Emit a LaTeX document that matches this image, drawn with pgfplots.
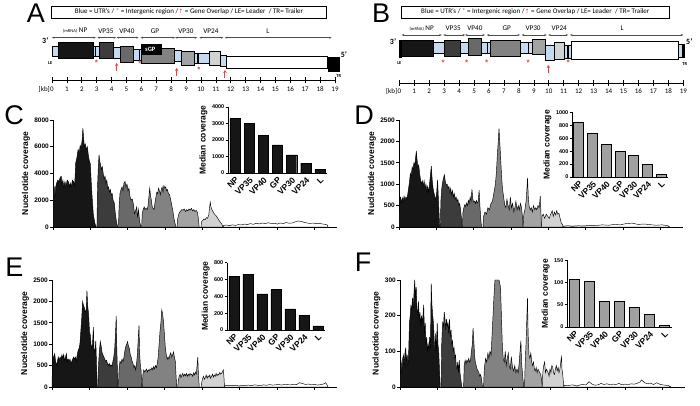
\documentclass[border=0pt]{standalone}
\usepackage{fontspec}
\setmainfont{Liberation Sans}
\newfontfamily\calfont{Carlito}
\newfontfamily\arrowfont{DejaVu Sans}
\usepackage{pgfplots}
\pgfplotsset{compat=1.18}
\usetikzlibrary{arrows.meta}

\definecolor{utr}{RGB}{197,217,241}
\definecolor{markred}{RGB}{214,76,76}
\definecolor{cNP}{RGB}{22,22,22}
\definecolor{cVPa}{RGB}{60,60,60}
\definecolor{cVPb}{RGB}{105,105,105}
\definecolor{cGP}{RGB}{130,130,130}
\definecolor{cVPc}{RGB}{163,163,163}
\definecolor{cVPd}{RGB}{210,210,210}
\definecolor{bargray}{RGB}{160,160,160}

\pgfplotsset{
  covstyle/.style={scale only axis, anchor=south west, axis lines=left,
    axis line style={-, line width=0.9pt},
    xmin=0, xmax=19, ymin=0,
    xtick={0,2.5,...,17.5}, xticklabels={},
    tick align=outside, major tick length=3pt,
    tick style={line width=0.9pt, black},
    yticklabel style={font=\bfseries\fontsize{6.5}{7}\selectfont, inner sep=1pt},
    ylabel style={font=\bfseries\fontsize{8.5}{9}\selectfont},
    /pgf/number format/assume math mode=true,
    /pgf/number format/1000 sep={},
    scaled y ticks=false,
    every axis plot/.append style={draw=black, line width=0.45pt}},
  insetstyle/.style={scale only axis, anchor=south west, axis lines=left,
    axis line style={-, line width=0.8pt},
    ybar, bar width=0.72,
    xmin=0.5, xmax=7.5, ymin=0,
    xtick={1,...,7}, xticklabels={NP,VP35,VP40,GP,VP30,VP24,L},
    x tick label style={rotate=45, anchor=north east, inner sep=0.5pt,
      font=\bfseries\fontsize{8.5}{9}\selectfont},
    x tick style={draw=none},
    tick align=outside, major tick length=2.5pt,
    y tick style={line width=0.8pt, black},
    yticklabel style={font=\bfseries\fontsize{5.5}{6}\selectfont, inner sep=1pt},
    ylabel={Median coverage},
    ylabel style={font=\bfseries\fontsize{8.5}{9}\selectfont},
    /pgf/number format/assume math mode=true,
    /pgf/number format/1000 sep={},
    scaled y ticks=false},
  mapstyle/.style={scale only axis, anchor=center, hide axis, clip=false,
    xmin=0, xmax=19, ymin=0, ymax=100, y dir=reverse, height=100pt},
}

\tikzset{
  box/.style={line width=0.4pt, draw=black},
  gene/.style={{Stealth[length=2.5pt,width=2pt]}-{Stealth[length=2.5pt,width=2pt]}, black!70, line width=0.4pt},
  glab/.style={font=\calfont\fontsize{7.2}{8}\selectfont},
  redup/.style={-{Stealth[length=3pt,width=3.5pt]}, markred, line width=0.9pt},
  ast/.style={markred, font=\bfseries\fontsize{8}{8}\selectfont, inner sep=0pt},
}

\begin{document}
\begin{tikzpicture}
\useasboundingbox (0,0) rectangle (700pt,406pt);

% ---------------- A: genome map ----------------
\begin{axis}[mapstyle, at={(193.5pt,356pt)}, width=283pt]
\addplot[black, line width=0.6pt] coordinates {(0,80) (19,80)};
\pgfplotsinvokeforeach{0,...,19}{\draw[line width=0.6pt] (#1,77) -- (#1,83);
  \node[font=\calfont\fontsize{7}{8}\selectfont] at (#1,89) {#1};}
\node[anchor=east, inner sep=0pt, font=\calfont\fontsize{7}{8}\selectfont] at (-0.13,89) {[kb]};
\node[draw, line width=0.6pt, minimum width=275pt, minimum height=12pt, inner sep=1pt,
  font=\calfont\fontsize{7}{8}\selectfont] at (9.2,12)
  {Blue = UTR’s / {\color{markred}*} = Intergenic region /{\color{markred}\arrowfont\fontsize{6}{6}\selectfont ↑} = Gene Overlap / LE= Leader \ / TR= Trailer};
% gene spans
\draw[gene] (0,37.7) -- (2.95,37.7);
\draw[gene] (3.04,37.7) -- (4.3,37.7);
\draw[gene] (4.34,37.7) -- (5.82,37.7);
\draw[gene] (5.95,37.7) -- (8.26,37.7);
\draw[gene] (8.26,37.7) -- (9.75,37.7);
\draw[gene] (9.89,37.7) -- (11.5,37.7);
\draw[gene] (11.61,37.7) -- (18.77,37.7);
\node[glab] at (1.55,31) {{\fontsize{4.5}{5}\selectfont (mRNA)} NP};
\node[glab] at (3.62,31) {VP35};
\node[glab] at (5.03,31) {VP40};
\node[glab] at (6.91,31) {GP};
\node[glab] at (8.99,31) {VP30};
\node[glab] at (10.67,31) {VP24};
\node[glab] at (14.5,31) {L};
% genome boxes
\draw[box, fill=utr] (0,46) rectangle (0.45,56);
\draw[box, fill=cNP] (0.42,42) rectangle (2.77,58);
\draw[box, fill=utr] (2.77,46) rectangle (3.15,56);
\fill[black] (2.88,46) rectangle (2.97,56);
\draw[box, fill=cVPa] (3.15,42) rectangle (4.11,58);
\draw[box, fill=utr] (4.11,47) rectangle (4.56,58);
\draw[box, fill=cVPb] (4.56,46) rectangle (5.46,62);
\draw[box, fill=utr] (5.46,49) rectangle (6.02,60);
\fill[black] (5.82,49) rectangle (5.9,60);
\draw[box, fill=cGP] (6.02,48) rectangle (8.21,63);
\draw[box, fill=black] (6.02,44) rectangle (7.35,54.5);
\node[white, font=\calfont\bfseries\fontsize{6.5}{7}\selectfont] at (6.6,49.5) {sGP};
\draw[box, fill=utr] (8.21,50) rectangle (8.66,61);
\draw[box, fill=cVPc] (8.66,51) rectangle (9.53,65);
\draw[box, fill=utr] (9.53,53) rectangle (10.56,63);
\fill[black] (9.75,53) rectangle (9.84,63);
\draw[box, fill=cVPd] (10.56,51) rectangle (11.28,65);
\draw[box, fill=utr] (11.28,55) rectangle (11.68,66);
\draw[box, fill=white] (11.68,56) rectangle (18.48,68.5);
\draw[box, fill=black] (18.52,57) rectangle (19.3,71);
\node[font=\calfont\bfseries\fontsize{8}{8}\selectfont] at (-0.45,41) {3’};
\node[font=\calfont\bfseries\fontsize{8}{8}\selectfont] at (19.6,55) {5’};
\node[font=\calfont\bfseries\fontsize{4.5}{5}\selectfont] at (-0.12,63) {LE};
\node[font=\calfont\bfseries\fontsize{4.5}{5}\selectfont] at (19.25,76) {TR};
\node[ast] at (2.99,63) {*};
\node[ast] at (5.9,64) {*};
\node[ast] at (9.87,70) {*};
\draw[redup] (4.34,71) -- (4.34,63);
\draw[redup] (8.37,76) -- (8.37,68);
\draw[redup] (11.61,78) -- (11.61,70);
\end{axis}
\node[font=\fontsize{27}{27}\selectfont] at (36pt,393pt) {A};

% ---------------- B: genome map ----------------
\begin{axis}[mapstyle, at={(541.3pt,356pt)}, width=284pt]
\addplot[black, line width=0.6pt] coordinates {(0,83) (19,83)};
\pgfplotsinvokeforeach{0,...,19}{\draw[line width=0.6pt] (#1,80) -- (#1,86);
  \node[font=\calfont\fontsize{7}{8}\selectfont] at (#1,91) {#1};}
\node[anchor=east, inner sep=0pt, font=\calfont\fontsize{7}{8}\selectfont] at (-0.13,91) {[kb]};
\node[draw, line width=0.6pt, minimum width=268pt, minimum height=12pt, inner sep=1pt,
  font=\calfont\fontsize{7}{8}\selectfont] at (9.1,12)
  {Blue = UTR’s / {\color{markred}*} = Intergenic region /{\color{markred}\arrowfont\fontsize{6}{6}\selectfont ↑} = Gene Overlap / LE= Leader \ / TR= Trailer};
\draw[gene] (0.16,35) -- (2.84,35);
\draw[gene] (2.94,35) -- (4.4,35);
\draw[gene] (4.4,35) -- (5.73,35);
\draw[gene] (5.85,35) -- (8.07,35);
\draw[gene] (8.19,35) -- (9.86,35);
\draw[gene] (9.97,35) -- (11.3,35);
\draw[gene] (11.42,35) -- (19.0,35);
\node[glab] at (1.5,28.3) {{\fontsize{4.5}{5}\selectfont (mRNA)} NP};
\node[glab] at (3.6,28.3) {VP35};
\node[glab] at (5.06,28.3) {VP40};
\node[glab] at (7.18,28.3) {GP};
\node[glab] at (8.95,28.3) {VP30};
\node[glab] at (10.7,28.3) {VP24};
\node[glab] at (14.9,28.3) {L};
\draw[box, fill=black] (0,40) rectangle (0.16,57);
\draw[box, fill=cNP] (0.16,40) rectangle (2.27,56.7);
\draw[box, fill=utr] (2.27,42.5) rectangle (3.0,53.5);
\draw[box, fill=cVPa] (3.0,40) rectangle (4.06,56.7);
\draw[box, fill=utr] (4.06,42.5) rectangle (4.62,53.5);
\draw[box, fill=cVPb] (4.62,38.3) rectangle (5.51,55);
\draw[box, fill=utr] (5.51,42.5) rectangle (6.07,53.5);
\fill[black] (5.85,42.5) rectangle (5.94,53.5);
\draw[box, fill=cGP] (6.07,40) rectangle (8.07,56.7);
\draw[box, fill=utr] (8.07,42.5) rectangle (8.92,53.5);
\fill[black] (8.6,42.5) rectangle (8.69,53.5);
\draw[box, fill=cVPc] (8.92,39) rectangle (9.75,54.3);
\draw[box, fill=utr] (9.75,45) rectangle (10.37,60);
\draw[box, fill=cVPd] (10.37,42.7) rectangle (11.04,59.3);
\draw[box, fill=utr] (11.04,45) rectangle (11.53,58);
\fill[black] (11.24,45) rectangle (11.32,58);
\draw[box, fill=white] (11.53,41.7) rectangle (18.66,59.3);
\draw[box, fill=utr] (18.66,44) rectangle (18.95,57);
\draw[box, fill=black] (18.95,44) rectangle (19.07,57);
\node[font=\calfont\bfseries\fontsize{8}{8}\selectfont] at (-0.42,42) {3’};
\node[font=\calfont\bfseries\fontsize{8}{8}\selectfont] at (19.4,42) {5’};
\node[font=\calfont\bfseries\fontsize{4.5}{5}\selectfont] at (0,63) {LE};
\node[font=\calfont\bfseries\fontsize{4.5}{5}\selectfont] at (19.1,64) {TR};
\node[ast] at (2.94,63) {*};
\node[ast] at (4.5,63) {*};
\node[ast] at (5.85,63) {*};
\node[ast] at (8.63,63) {*};
\node[ast] at (11.3,63) {*};
\draw[redup] (9.97,73) -- (9.97,65);
\end{axis}
\node[font=\fontsize{27}{27}\selectfont] at (381pt,393pt) {B};

% ---------------- C ----------------
\begin{axis}[covstyle, at={(53pt,179pt)}, width=284pt, height=107pt,
  ymax=8000, ytick={0,2000,...,8000}, ylabel={Nucelotide coverage}]
\addplot[fill=cNP] coordinates {(0,0) (0.02,2900) (0.08,3000) (0.13,2200) (0.18,3000) (0.25,3300) (0.32,3500) (0.4,3400) (0.48,3700) (0.55,3800) (0.6,3200) (0.66,3500) (0.72,3000) (0.8,3400) (0.86,3000) (0.95,3500) (1.02,3400) (1.1,3000) (1.15,3300) (1.22,3000) (1.3,3500) (1.38,3400) (1.45,3100) (1.52,4800) (1.6,5200) (1.68,5800) (1.75,5500) (1.82,6100) (1.88,5900) (1.95,6500) (2.0,7400) (2.05,6600) (2.1,6000) (2.16,6200) (2.22,5800) (2.3,6000) (2.36,5400) (2.42,5000) (2.5,4700) (2.55,3500) (2.62,2200) (2.7,900) (2.8,300) (2.88,0)} \closedcycle;
\addplot[fill=cVPa] coordinates {(2.94,0) (2.98,3000) (3.03,4500) (3.08,5400) (3.13,4900) (3.18,4700) (3.24,4300) (3.3,4500) (3.36,4000) (3.42,3600) (3.48,3800) (3.54,3300) (3.6,3500) (3.66,2900) (3.72,3000) (3.78,2600) (3.84,2800) (3.9,2400) (3.96,2500) (4.02,2000) (4.1,1800) (4.18,900) (4.26,300) (4.33,0)} \closedcycle;
\addplot[fill=cVPb] coordinates {(4.38,0) (4.42,1500) (4.48,2500) (4.55,2800) (4.62,3000) (4.68,2700) (4.75,3300) (4.82,3400) (4.88,3000) (4.95,3200) (5.02,2700) (5.08,2900) (5.15,2300) (5.22,2000) (5.3,2100) (5.38,1700) (5.45,1000) (5.52,1200) (5.6,1500) (5.66,700) (5.72,1300) (5.8,400) (5.88,0)} \closedcycle;
\addplot[fill=cGP] coordinates {(5.93,0) (5.97,1000) (6.03,1300) (6.1,1500) (6.16,1300) (6.22,1400) (6.3,1300) (6.36,1600) (6.42,2300) (6.47,2900) (6.52,2400) (6.58,2000) (6.64,1500) (6.7,1400) (6.76,1300) (6.82,1800) (6.88,2200) (6.94,2600) (7.0,2500) (7.06,2900) (7.12,2700) (7.18,2400) (7.24,2800) (7.3,3000) (7.36,2600) (7.42,3100) (7.48,2900) (7.54,3000) (7.6,2700) (7.66,2800) (7.72,2500) (7.8,2400) (7.88,2000) (7.95,1600) (8.02,1200) (8.1,600) (8.18,200) (8.24,0)} \closedcycle;
\addplot[fill=cVPc] coordinates {(8.3,0) (8.34,600) (8.4,900) (8.47,1100) (8.54,1200) (8.62,1300) (8.7,1250) (8.78,1350) (8.86,1150) (8.94,1300) (9.02,1200) (9.1,1350) (9.18,1250) (9.26,1400) (9.34,1200) (9.42,1300) (9.5,1150) (9.58,1250) (9.66,1100) (9.72,700) (9.78,0)} \closedcycle;
\addplot[fill=cVPd] coordinates {(9.9,0) (9.94,400) (10.02,500) (10.1,600) (10.18,550) (10.26,700) (10.34,650) (10.42,900) (10.48,1500) (10.52,1850) (10.57,1500) (10.63,1300) (10.7,1150) (10.78,1000) (10.86,900) (10.94,800) (11.02,650) (11.1,500) (11.2,350) (11.3,200) (11.38,0)} \closedcycle;
\addplot[fill=white] coordinates {(11.38,0) (11.42,120) (11.6,150) (11.8,100) (12.0,160) (12.2,120) (12.4,180) (12.6,150) (12.8,220) (13.0,180) (13.2,250) (13.4,200) (13.6,280) (13.8,230) (14.0,300) (14.2,250) (14.4,320) (14.6,260) (14.8,280) (15.0,220) (15.2,300) (15.4,260) (15.6,330) (15.8,280) (16.0,300) (16.2,380) (16.4,450) (16.6,420) (16.8,350) (17.0,300) (17.2,260) (17.4,300) (17.6,250) (17.8,280) (18.0,230) (18.2,200) (18.35,150) (18.4,0)} \closedcycle;
\end{axis}
\begin{axis}[insetstyle, at={(228pt,233pt)}, width=99pt, height=66pt,
  ymax=4000, ytick={0,1000,...,4000}]
\addplot[fill=cNP, draw=black] coordinates {(1,3300) (2,3000) (3,2300) (4,1700) (5,1100) (6,600) (7,200)};
\end{axis}
\node[font=\fontsize{27}{27}\selectfont] at (14pt,291pt) {C};

% ---------------- D ----------------
\begin{axis}[covstyle, at={(399pt,179pt)}, width=284pt, height=107pt,
  ymax=2500, ytick={0,500,...,2500}, ylabel={Nucleotide coverage}]
\addplot[fill=cNP] coordinates {(0.0,0) (0.03,650) (0.1,700) (0.16,560) (0.22,680) (0.28,600) (0.34,720) (0.4,620) (0.46,700) (0.52,650) (0.58,750) (0.64,900) (0.7,1050) (0.76,1250) (0.82,1200) (0.88,1400) (0.94,1350) (1.0,1500) (1.06,1450) (1.12,1650) (1.16,1780) (1.2,1600) (1.26,1400) (1.32,1450) (1.38,1250) (1.44,1100) (1.5,1000) (1.56,1080) (1.62,950) (1.68,1080) (1.74,900) (1.8,1000) (1.86,850) (1.92,950) (1.98,800) (2.04,1000) (2.1,1200) (2.16,1420) (2.22,1100) (2.28,900) (2.34,800) (2.4,700) (2.46,650) (2.52,800) (2.58,1100) (2.63,700) (2.68,300) (2.72,0)} \closedcycle;
\addplot[fill=cVPa] coordinates {(2.77,0) (2.8,600) (2.86,900) (2.92,1050) (2.98,1150) (3.04,1220) (3.1,1050) (3.16,980) (3.22,1000) (3.28,900) (3.34,950) (3.4,800) (3.46,900) (3.52,750) (3.58,850) (3.64,700) (3.7,780) (3.76,650) (3.82,700) (3.88,600) (3.94,650) (4.0,500) (4.06,550) (4.12,400) (4.18,200) (4.22,0)} \closedcycle;
\addplot[fill=cVPb] coordinates {(4.24,0) (4.28,350) (4.34,450) (4.4,520) (4.46,480) (4.52,560) (4.58,500) (4.64,620) (4.7,550) (4.76,700) (4.82,600) (4.88,880) (4.94,650) (5.0,580) (5.06,600) (5.12,550) (5.18,620) (5.24,560) (5.3,600) (5.36,860) (5.42,450) (5.47,200) (5.52,0)} \closedcycle;
\addplot[fill=cGP] coordinates {(5.62,0) (5.66,250) (5.75,350) (5.85,300) (5.95,450) (6.05,400) (6.15,550) (6.25,600) (6.35,800) (6.45,1000) (6.52,1300) (6.58,1700) (6.64,2000) (6.69,2300) (6.74,2000) (6.8,1600) (6.86,1200) (6.92,900) (7.0,700) (7.08,500) (7.15,450) (7.22,650) (7.3,500) (7.38,400) (7.45,700) (7.52,450) (7.6,550) (7.68,350) (7.75,450) (7.82,600) (7.9,400) (7.98,500) (8.05,400) (8.12,550) (8.2,450) (8.27,200) (8.3,0)} \closedcycle;
\addplot[fill=cVPc] coordinates {(8.3,0) (8.35,300) (8.42,400) (8.5,600) (8.56,900) (8.6,1150) (8.65,700) (8.7,500) (8.78,400) (8.85,450) (8.92,350) (9.0,500) (9.08,400) (9.15,450) (9.22,400) (9.3,500) (9.38,450) (9.45,720) (9.5,300) (9.53,0)} \closedcycle;
\addplot[fill=cVPd] coordinates {(9.53,0) (9.57,250) (9.65,300) (9.75,200) (9.85,300) (9.95,250) (10.05,200) (10.15,300) (10.25,380) (10.32,250) (10.4,350) (10.48,280) (10.55,380) (10.62,300) (10.7,320) (10.78,200) (10.85,100) (10.95,50) (10.97,0)} \closedcycle;
\addplot[fill=white] coordinates {(10.97,0) (11.0,20) (11.3,30) (11.6,20) (12.0,30) (12.4,25) (12.8,40) (13.2,35) (13.6,50) (14.0,40) (14.4,60) (14.8,50) (15.2,80) (15.6,90) (16.0,60) (16.4,70) (16.8,55) (17.2,40) (17.6,50) (18.0,30) (18.1,0)} \closedcycle;
\end{axis}
\begin{axis}[insetstyle, at={(572pt,229pt)}, width=96pt, height=64.6pt,
  ymax=1000, ytick={0,200,...,1000}]
\addplot[fill=bargray, draw=black, line width=0.9pt] coordinates {(1,850) (2,680) (3,500) (4,390) (5,330) (6,200) (7,40)};
\end{axis}
\node[font=\fontsize{27}{27}\selectfont] at (364pt,291pt) {D};

% ---------------- E ----------------
\begin{axis}[covstyle, at={(52pt,19pt)}, width=285pt, height=107pt,
  ymax=2500, ytick={0,500,...,2500}, ylabel={Nucelotide coverage}]
\addplot[fill=cNP] coordinates {(0,0) (0.03,500) (0.1,700) (0.18,780) (0.24,600) (0.3,500) (0.36,600) (0.42,700) (0.48,620) (0.54,700) (0.6,650) (0.66,750) (0.72,680) (0.78,760) (0.84,600) (0.9,700) (0.96,780) (1.02,600) (1.08,650) (1.14,600) (1.2,650) (1.26,550) (1.32,600) (1.38,650) (1.44,700) (1.5,650) (1.56,700) (1.62,600) (1.68,750) (1.74,850) (1.8,900) (1.86,1000) (1.92,1300) (1.98,1600) (2.04,2000) (2.1,1900) (2.16,1850) (2.22,1750) (2.28,1800) (2.33,2250) (2.38,1900) (2.44,1700) (2.5,1300) (2.56,1200) (2.62,900) (2.7,1000) (2.76,1400) (2.8,900) (2.86,800) (2.92,1080) (2.97,500) (3.02,0)} \closedcycle;
\addplot[fill=cVPa] coordinates {(3.06,0) (3.1,500) (3.16,850) (3.22,1060) (3.28,950) (3.34,800) (3.4,750) (3.46,700) (3.52,650) (3.58,600) (3.64,620) (3.7,550) (3.76,500) (3.82,550) (3.88,480) (3.94,520) (4.0,480) (4.06,600) (4.12,700) (4.18,900) (4.24,1300) (4.28,1660) (4.32,900) (4.36,400) (4.4,0)} \closedcycle;
\addplot[fill=cVPb] coordinates {(4.43,0) (4.47,400) (4.53,600) (4.6,550) (4.67,650) (4.74,600) (4.8,700) (4.86,850) (4.92,950) (4.98,1000) (5.04,1060) (5.1,950) (5.16,900) (5.22,750) (5.28,700) (5.34,600) (5.4,550) (5.46,450) (5.52,500) (5.58,400) (5.64,550) (5.7,800) (5.76,1200) (5.8,1440) (5.84,800) (5.9,450) (5.94,400) (5.98,0)} \closedcycle;
\addplot[fill=cGP] coordinates {(6.02,0) (6.06,300) (6.12,400) (6.18,350) (6.24,380) (6.3,420) (6.36,350) (6.42,400) (6.48,380) (6.54,420) (6.6,400) (6.66,450) (6.72,400) (6.78,480) (6.84,420) (6.9,500) (6.96,450) (7.02,550) (7.08,700) (7.14,1000) (7.2,1300) (7.26,1500) (7.32,1800) (7.38,1700) (7.44,1500) (7.5,1200) (7.56,900) (7.62,750) (7.68,650) (7.74,700) (7.8,650) (7.86,750) (7.92,800) (7.98,700) (8.04,750) (8.1,820) (8.16,700) (8.22,600) (8.28,200) (8.32,0)} \closedcycle;
\addplot[fill=cVPc] coordinates {(8.38,0) (8.42,150) (8.48,250) (8.54,300) (8.6,220) (8.66,280) (8.72,320) (8.78,250) (8.84,300) (8.9,260) (8.96,320) (9.02,250) (9.08,300) (9.14,260) (9.2,320) (9.26,280) (9.32,300) (9.38,250) (9.44,330) (9.5,280) (9.56,350) (9.62,300) (9.67,500) (9.72,700) (9.76,300) (9.82,0)} \closedcycle;
\addplot[fill=cVPd] coordinates {(9.94,0) (9.98,100) (10.04,200) (10.1,250) (10.16,180) (10.22,220) (10.28,280) (10.34,200) (10.4,260) (10.46,230) (10.52,280) (10.58,200) (10.64,250) (10.7,300) (10.76,230) (10.82,280) (10.88,250) (10.94,320) (11.0,260) (11.06,300) (11.12,280) (11.18,340) (11.24,300) (11.3,320) (11.36,350) (11.42,400) (11.46,250) (11.5,0)} \closedcycle;
\addplot[fill=white] coordinates {(11.5,0) (11.52,40) (11.7,30) (11.9,40) (12.1,30) (12.3,35) (12.5,25) (12.7,40) (12.9,35) (13.1,45) (13.3,30) (13.5,50) (13.7,40) (13.9,35) (14.1,50) (14.3,40) (14.5,55) (14.7,45) (14.9,50) (15.1,60) (15.3,45) (15.5,60) (15.7,55) (15.9,50) (16.1,60) (16.3,55) (16.5,100) (16.7,80) (16.9,60) (17.1,70) (17.3,50) (17.5,60) (17.7,45) (17.9,55) (18.1,70) (18.25,100) (18.35,40) (18.4,0)} \closedcycle;
\end{axis}
\begin{axis}[insetstyle, at={(227pt,76pt)}, width=98pt, height=67.3pt,
  ymax=800, ytick={0,200,...,800}]
\addplot[fill=cNP, draw=black] coordinates {(1,640) (2,660) (3,430) (4,480) (5,250) (6,175) (7,50)};
\end{axis}
\node[font=\fontsize{27}{27}\selectfont] at (14.5pt,138.5pt) {E};

% ---------------- F ----------------
\begin{axis}[covstyle, at={(400pt,19pt)}, width=285pt, height=107pt,
  ymax=300, ytick={0,100,200,300}, ylabel={Nucleotide coverage}]
\addplot[fill=cNP] coordinates {(0,0) (0.03,60) (0.08,70) (0.13,40) (0.18,80) (0.23,90) (0.28,60) (0.33,95) (0.38,110) (0.43,70) (0.48,90) (0.53,60) (0.58,100) (0.63,180) (0.68,200) (0.73,230) (0.78,210) (0.83,250) (0.88,220) (0.93,260) (0.98,300) (1.03,250) (1.08,280) (1.13,220) (1.18,200) (1.23,240) (1.28,190) (1.33,210) (1.38,170) (1.43,200) (1.48,180) (1.53,200) (1.58,230) (1.63,150) (1.68,180) (1.73,120) (1.78,140) (1.83,100) (1.88,120) (1.93,100) (1.98,140) (2.03,110) (2.08,290) (2.13,230) (2.18,200) (2.23,180) (2.28,130) (2.33,100) (2.38,150) (2.43,100) (2.48,180) (2.53,120) (2.58,100) (2.63,50) (2.68,0)} \closedcycle;
\addplot[fill=cVPa] coordinates {(2.74,0) (2.78,120) (2.84,180) (2.9,170) (2.95,210) (3.0,190) (3.05,160) (3.1,190) (3.15,170) (3.2,180) (3.25,150) (3.3,190) (3.35,140) (3.4,160) (3.45,120) (3.5,130) (3.55,100) (3.6,110) (3.65,80) (3.7,90) (3.75,60) (3.8,50) (3.85,70) (3.9,40) (3.95,75) (4.0,40) (4.06,20) (4.12,0)} \closedcycle;
\addplot[fill=cVPb] coordinates {(4.24,0) (4.28,60) (4.34,75) (4.4,65) (4.46,75) (4.52,70) (4.58,80) (4.64,70) (4.7,75) (4.76,100) (4.82,120) (4.87,165) (4.92,130) (4.97,90) (5.02,70) (5.08,60) (5.14,50) (5.2,45) (5.26,40) (5.32,30) (5.38,35) (5.44,20) (5.5,0)} \closedcycle;
\addplot[fill=cGP] coordinates {(5.57,0) (5.62,50) (5.7,80) (5.78,70) (5.86,95) (5.93,80) (6.0,100) (6.07,90) (6.13,140) (6.2,200) (6.27,260) (6.33,300) (6.5,300) (6.6,300) (6.7,280) (6.76,200) (6.82,120) (6.88,80) (6.95,70) (7.02,100) (7.08,60) (7.15,80) (7.22,95) (7.28,60) (7.35,50) (7.42,85) (7.5,55) (7.58,45) (7.65,60) (7.72,40) (7.8,50) (7.88,40) (7.95,70) (8.02,110) (8.06,130) (8.1,70) (8.18,30) (8.25,0)} \closedcycle;
\addplot[fill=cVPc] coordinates {(8.3,0) (8.34,60) (8.4,120) (8.46,200) (8.5,250) (8.54,150) (8.6,90) (8.66,80) (8.72,95) (8.78,70) (8.84,60) (8.9,70) (8.96,50) (9.02,45) (9.08,55) (9.14,40) (9.2,50) (9.26,45) (9.32,40) (9.38,35) (9.44,20) (9.48,0)} \closedcycle;
\addplot[fill=cVPd] coordinates {(9.48,0) (9.52,40) (9.58,60) (9.64,70) (9.7,40) (9.76,50) (9.82,45) (9.88,40) (9.94,30) (10.0,50) (10.06,40) (10.12,60) (10.18,55) (10.24,40) (10.3,35) (10.36,50) (10.42,60) (10.48,45) (10.54,55) (10.6,40) (10.66,50) (10.72,70) (10.76,88) (10.8,50) (10.86,30) (10.92,0)} \closedcycle;
\addplot[fill=white] coordinates {(10.92,0) (10.95,5) (11.2,4) (11.5,6) (11.8,3) (12.1,7) (12.4,6) (12.6,15) (12.8,8) (13.0,5) (13.2,6) (13.4,10) (13.6,7) (13.8,9) (14.0,6) (14.2,8) (14.4,7) (14.6,10) (14.8,6) (15.0,8) (15.2,6) (15.4,9) (15.6,8) (15.8,10) (16.0,14) (16.1,20) (16.3,12) (16.5,9) (16.7,11) (16.9,7) (17.1,12) (17.3,8) (17.5,6) (17.7,5) (17.9,4) (18.06,0)} \closedcycle;
\end{axis}
\begin{axis}[insetstyle, at={(567pt,79pt)}, width=105pt, height=66.6pt,
  ymax=150, ytick={0,50,100,150}]
\addplot[fill=bargray, draw=black, line width=0.9pt] coordinates {(1,108) (2,102) (3,57) (4,58) (5,44) (6,29) (7,4)};
\end{axis}
\node[font=\fontsize{27}{27}\selectfont] at (363pt,144pt) {F};
\end{tikzpicture}
\end{document}
